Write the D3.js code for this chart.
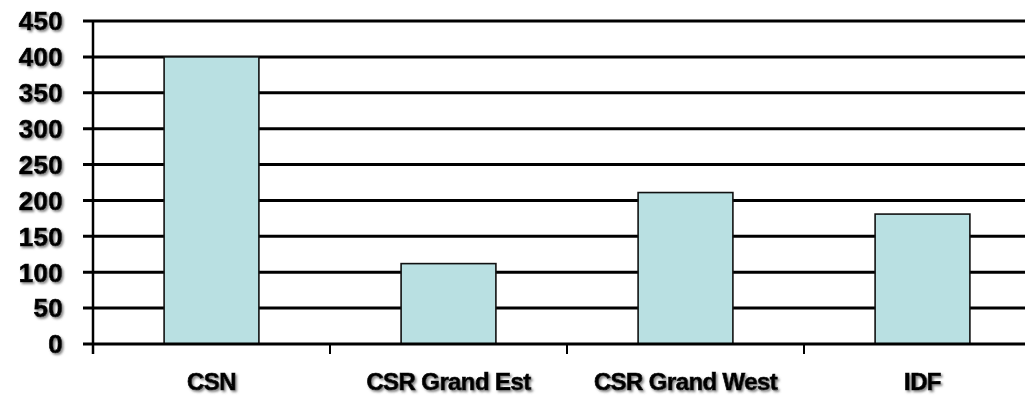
<!DOCTYPE html>
<html>
<head>
<meta charset="utf-8">
<script src="https://cdn.jsdelivr.net/npm/d3@7"></script>
<style>
  html, body { margin: 0; padding: 0; background: #fff; }
  svg { display: block; }
  text { font-family: "Liberation Sans", Arial, sans-serif; font-weight: bold; fill: #000; stroke: #000; stroke-width: 0.7; }
</style>
</head>
<body>
<svg id="chart" width="1025" height="395"></svg>
<script>
// Chart data
const categories = ["CSN", "CSR Grand Est", "CSR Grand West", "IDF"];
const values = [400, 112, 211, 181];
const yTicks = [0, 50, 100, 150, 200, 250, 300, 350, 400, 450];

const svg = d3.select("#chart");
const W = 1025;
const plot = { left: 93, right: 1041, top: 21, bottom: 344 };

// text shadow
const defs = svg.append("defs");
const f = defs.append("filter").attr("id", "shadow")
  .attr("x", "-20%").attr("y", "-30%").attr("width", "140%").attr("height", "160%");
f.append("feDropShadow").attr("dx", 1.6).attr("dy", 1.8)
  .attr("stdDeviation", 0.9).attr("flood-color", "#777").attr("flood-opacity", 0.9);

const x = d3.scaleBand()
  .domain(categories)
  .range([plot.left, plot.right])
  .paddingInner(0.6)
  .paddingOuter(0.3);

const y = d3.scaleLinear()
  .domain([0, 450])
  .range([plot.bottom, plot.top]);

// horizontal gridlines with outward tick stubs
svg.append("g").selectAll("line")
  .data(yTicks.filter(d => d > 0))
  .join("line")
  .attr("x1", plot.left - 10).attr("x2", W)
  .attr("y1", d => y(d)).attr("y2", d => y(d))
  .attr("stroke", "#000").attr("stroke-width", 3);

// bars
svg.append("g").selectAll("rect")
  .data(categories)
  .join("rect")
  .attr("x", d => x(d))
  .attr("width", x.bandwidth())
  .attr("y", (d, i) => y(values[i]))
  .attr("height", (d, i) => y(0) - y(values[i]))
  .attr("fill", "#b9e0e2")
  .attr("stroke", "#111")
  .attr("stroke-width", 1.6);

// baseline (x axis)
svg.append("line")
  .attr("x1", plot.left - 10).attr("x2", W)
  .attr("y1", y(0)).attr("y2", y(0))
  .attr("stroke", "#000").attr("stroke-width", 3);

// category boundary ticks
const step = x.step();
svg.append("g").selectAll("line")
  .data(categories)
  .join("line")
  .attr("x1", d => x(d) - step * 0.3).attr("x2", d => x(d) - step * 0.3)
  .attr("y1", y(0)).attr("y2", y(0) + 10)
  .attr("stroke", "#000").attr("stroke-width", 2);

// y axis line
svg.append("line")
  .attr("x1", plot.left).attr("x2", plot.left)
  .attr("y1", plot.top).attr("y2", y(0) + 10)
  .attr("stroke", "#000").attr("stroke-width", 2.5);

// y tick labels
svg.append("g").selectAll("text")
  .data(yTicks)
  .join("text")
  .attr("x", 63)
  .attr("y", d => y(d))
  .attr("dy", "0.36em")
  .attr("text-anchor", "end")
  .attr("font-size", 26)
  .attr("letter-spacing", 0.3)
  .attr("filter", "url(#shadow)")
  .text(d => d);

// category labels
svg.append("g").selectAll("text")
  .data(categories)
  .join("text")
  .attr("x", d => x(d) + x.bandwidth() / 2)
  .attr("y", 390)
  .attr("text-anchor", "middle")
  .attr("font-size", 24)
  .attr("letter-spacing", -0.6)
  .attr("filter", "url(#shadow)")
  .text(d => d);
</script>
</body>
</html>
